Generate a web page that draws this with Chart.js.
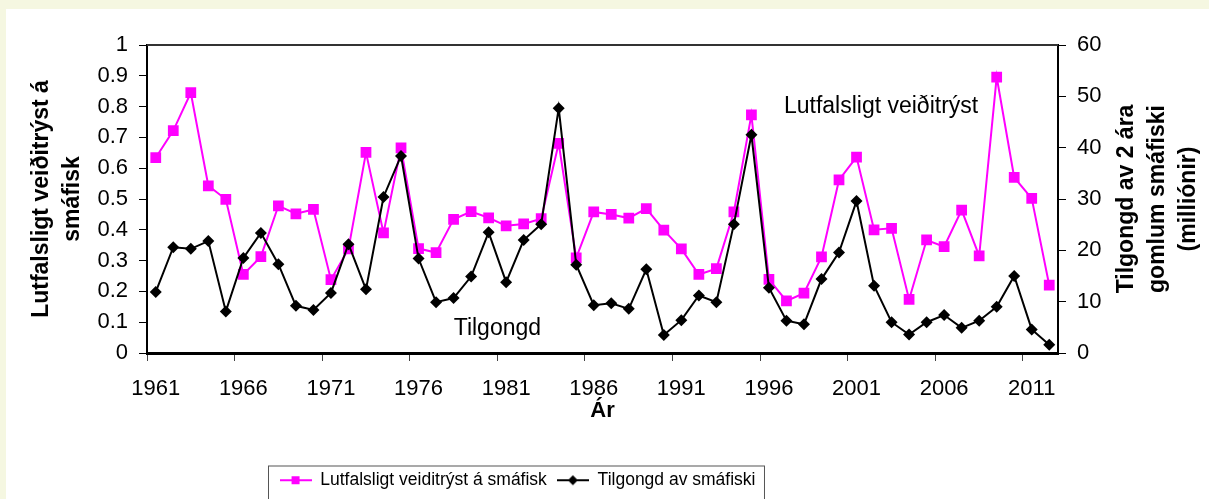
<!DOCTYPE html>
<html>
<head>
<meta charset="utf-8">
<script src="https://cdn.jsdelivr.net/npm/chart.js@4.4.0/dist/chart.umd.min.js"></script>
<style>
  body { margin: 0; background: #f5f7e1; }
  #wrap { position: absolute; left: 6px; top: 9px; width: 1203px; height: 490px; background: #fff; }
</style>
</head>
<body>
<div id="wrap"><canvas id="myChart" width="1203" height="490"></canvas></div>
<script>
var years = ['1961','1962','1963','1964','1965','1966','1967','1968','1969','1970',
             '1971','1972','1973','1974','1975','1976','1977','1978','1979','1980',
             '1981','1982','1983','1984','1985','1986','1987','1988','1989','1990',
             '1991','1992','1993','1994','1995','1996','1997','1998','1999','2000',
             '2001','2002','2003','2004','2005','2006','2007','2008','2009','2010',
             '2011','2012']

// Lutfalsligt veiðitrýst (left axis)
var pressure = [0.634, 0.722, 0.845, 0.543, 0.499, 0.255, 0.313, 0.478, 0.452, 0.466,
                0.238, 0.338, 0.651, 0.390, 0.666, 0.339, 0.326, 0.434, 0.459, 0.439,
                0.413, 0.419, 0.436, 0.681, 0.309, 0.458, 0.450, 0.438, 0.469, 0.399,
                0.338, 0.255, 0.274, 0.458, 0.773, 0.239, 0.169, 0.194, 0.312, 0.562,
                0.636, 0.400, 0.405, 0.174, 0.367, 0.345, 0.464, 0.315, 0.896, 0.570,
                0.502, 0.220]

// Tilgongd av 2 ára gomlum smáfiski, milliónir (right axis)
var recruits = [11.9, 20.6, 20.3, 21.8, 8.1, 18.5, 23.4, 17.3, 9.2, 8.4,
                11.7, 21.2, 12.4, 30.4, 38.4, 18.4, 9.9, 10.7, 14.9, 23.5,
                13.8, 22.0, 25.1, 47.7, 17.2, 9.3, 9.7, 8.6, 16.3, 3.5,
                6.4, 11.2, 9.9, 25.1, 42.5, 12.7, 6.3, 5.6, 14.4, 19.6,
                29.6, 13.1, 6.0, 3.6, 6.0, 7.4, 4.9, 6.3, 9.0, 15.0,
                4.6, 1.6]

var leftTitle = ['Lutfalsligt veiðitrýst á', 'smáfisk']
var rightTitle = ['Tilgongd av 2 ára', 'gomlum smáfiski', '(milliónir)']
var notes = [
  { text: 'Lutfalsligt veiðitrýst', at: 41.4, value: 0.779 },
  { text: 'Tilgongd', at: 19.5, value: 0.058 }
]

var FONT = "'Liberation Sans', Arial, sans-serif"
var PINK = '#ff00ff'

function makeIcon(color, shape) {
  var c = document.createElement('canvas')
  c.width = 32; c.height = 14
  var g = c.getContext('2d')
  g.strokeStyle = color; g.lineWidth = 2
  g.beginPath(); g.moveTo(0, 7); g.lineTo(32, 7); g.stroke()
  g.fillStyle = color
  if (shape === 'rect') {
    g.fillRect(12, 3, 8, 8)
  } else {
    g.beginPath(); g.moveTo(16, 2); g.lineTo(21, 7); g.lineTo(16, 12); g.lineTo(11, 7); g.closePath(); g.fill()
  }
  return c
}
var legendIcons = [makeIcon(PINK, 'rect'), makeIcon('#000', 'diamond')]

var extras = {
  id: 'extras',
  afterLayout: function (chart) {
    // legend sits left of centre in the original
    chart.legend.left -= 90
    chart.legend.right -= 90
  },
  afterDraw: function (chart) {
    var ctx = chart.ctx, a = chart.chartArea
    var x = chart.scales.x, y = chart.scales.y
    ctx.save()
    // top frame line
    ctx.strokeStyle = '#333'; ctx.lineWidth = 2
    ctx.beginPath(); ctx.moveTo(a.left, a.top); ctx.lineTo(a.right, a.top); ctx.stroke()

    // right axis title, reading bottom to top
    ctx.fillStyle = '#000'
    ctx.font = 'bold 23px ' + FONT
    ctx.textAlign = 'center'; ctx.textBaseline = 'middle'
    var cy = (a.top + a.bottom) / 2
    rightTitle.forEach(function (line, i) {
      ctx.save()
      ctx.translate(a.right + 69 + i * 31, cy)
      ctx.rotate(-Math.PI / 2)
      ctx.fillText(line, 0, 0)
      ctx.restore()
    })

    // series labels inside the plot
    ctx.font = '23px ' + FONT
    ctx.textBaseline = 'alphabetic'
    notes.forEach(function (n) {
      ctx.fillText(n.text, x.getPixelForValue(n.at), y.getPixelForValue(n.value))
    })

    // legend frame
    var l = chart.legend.left, r = chart.legend.right
    var w = chart.legend.lineWidths[0]
    var sx = (l + r) / 2 - w / 2
    ctx.strokeStyle = '#555'; ctx.lineWidth = 1
    ctx.strokeRect(Math.round(sx) - 6.5, chart.legend.top + 4.5, w + 10, 60)
    ctx.restore()
  }
}

var ctx = document.getElementById('myChart').getContext('2d')
var myChart = new Chart(ctx, {
  type: 'line',
  data: {
    labels: years,
    datasets: [{
      label: 'Lutfalsligt veiditrýst á smáfisk',
      data: pressure,
      yAxisID: 'y',
      borderColor: PINK,
      backgroundColor: PINK,
      borderWidth: 2,
      pointStyle: 'rect',
      pointRadius: 7.6,
      pointBorderWidth: 0,
      tension: 0,
      order: 2
    }, {
      label: 'Tilgongd av smáfiski',
      data: recruits,
      yAxisID: 'y1',
      borderColor: '#000',
      backgroundColor: '#000',
      borderWidth: 2,
      pointStyle: 'rectRot',
      pointRadius: 6,
      pointBorderWidth: 0,
      tension: 0,
      order: 1
    }]
  },
  options: {
    responsive: false,
    animation: false,
    devicePixelRatio: 1,
    layout: { padding: { top: 36, left: 0, right: 0, bottom: 0 } },
    plugins: {
      tooltip: { enabled: false },
      legend: {
        position: 'bottom',
        labels: {
          usePointStyle: true,
          pointStyleWidth: 32,
          padding: 10,
          color: '#000',
          font: { family: FONT, size: 17.5 },
          generateLabels: function (chart) {
            return chart.data.datasets.map(function (ds, i) {
              return {
                text: ds.label, datasetIndex: i, pointStyle: legendIcons[i],
                fontColor: '#000', fillStyle: 'transparent', strokeStyle: 'transparent',
                lineWidth: 0, hidden: false
              }
            })
          }
        }
      }
    },
    scales: {
      x: {
        type: 'category',
        offset: true,
        afterFit: function (s) { s.height = 108.5 },
        grid: {
          offset: true, drawOnChartArea: false, tickLength: 8,
          color: function (c) { return c.index % 5 === 0 ? '#444' : 'rgba(0,0,0,0)' }
        },
        border: { color: '#000', width: 3 },
        ticks: {
          autoSkip: false, maxRotation: 0, padding: 15, color: '#000',
          font: { family: FONT, size: 22 },
          callback: function (value, index) { return index % 5 === 0 ? years[index] : '' }
        },
        title: {
          display: true, text: 'Ár', color: '#000',
          font: { family: FONT, size: 22, weight: 'bold' },
          padding: { top: 0, bottom: 37 }
        }
      },
      y: {
        position: 'left',
        min: 0, max: 1,
        afterFit: function (s) { s.width = 141 },
        grid: { drawOnChartArea: false, color: '#000', tickLength: 8 },
        border: { color: '#000', width: 2 },
        ticks: {
          stepSize: 0.1, padding: 11, color: '#000', font: { family: FONT, size: 22 },
          callback: function (v) { return String(Math.round(v * 10) / 10) }
        },
        title: {
          display: true, text: leftTitle, color: '#000',
          font: { family: FONT, size: 23, weight: 'bold', lineHeight: 1.35 },
          padding: { top: 20, bottom: 0 }
        }
      },
      y1: {
        position: 'right',
        min: 0, max: 60,
        afterFit: function (s) { s.width = 151 },
        grid: { drawOnChartArea: false, color: '#000', tickLength: 8 },
        border: { color: '#000', width: 2 },
        ticks: { stepSize: 10, padding: 11, color: '#000', font: { family: FONT, size: 22 } }
      }
    }
  },
  plugins: [extras]
})
</script>
</body>
</html>
